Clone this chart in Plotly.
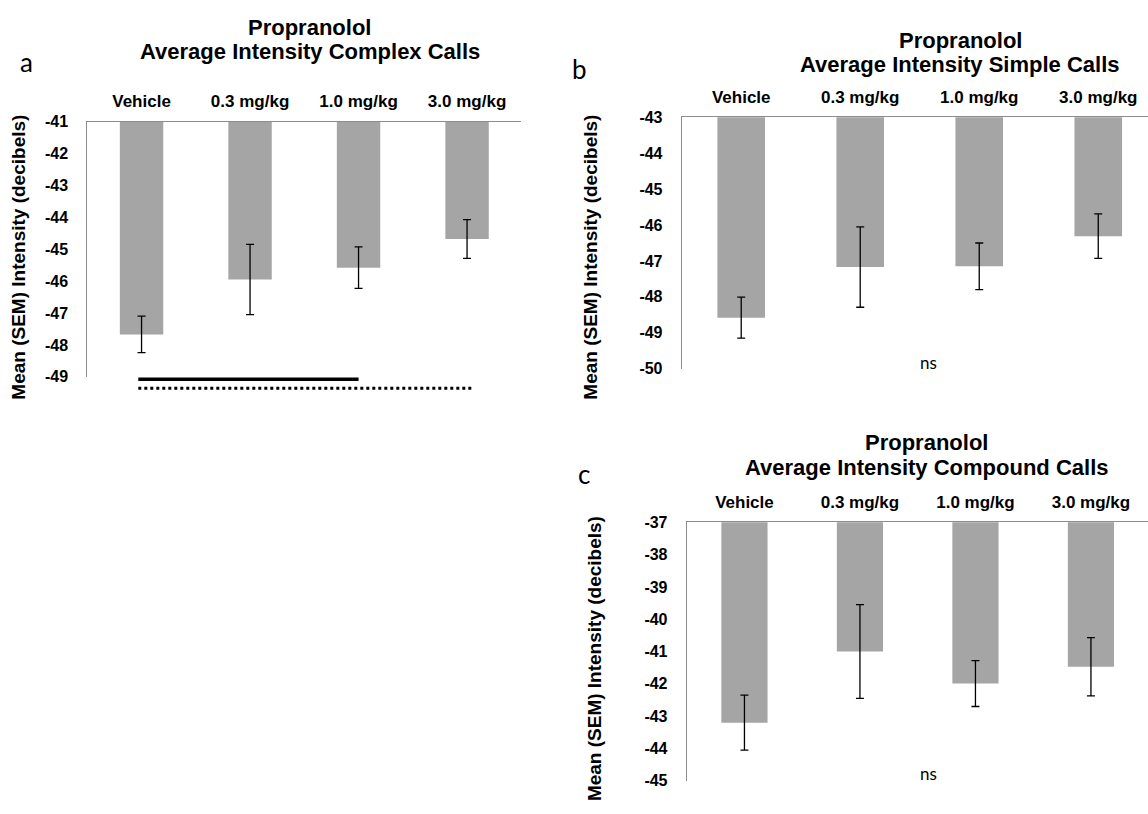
import plotly.graph_objects as go

# ---- data ----
categories = ["Vehicle", "0.3 mg/kg", "1.0 mg/kg", "3.0 mg/kg"]

complex_mean = [-47.67, -45.95, -45.58, -44.68]
complex_sem = [0.57, 1.10, 0.65, 0.61]

simple_mean = [-48.58, -47.17, -47.15, -46.31]
simple_sem = [0.57, 1.12, 0.65, 0.62]

compound_mean = [-43.20, -41.00, -41.99, -41.47]
compound_sem = [0.85, 1.45, 0.71, 0.90]

complex_ticks = list(range(-49, -40))
simple_ticks = list(range(-50, -42))
compound_ticks = list(range(-45, -36))

drug = "Propranolol"
titles = ["Average Intensity Complex Calls",
          "Average Intensity Simple Calls",
          "Average Intensity Compound Calls"]
y_title = "Mean (SEM) Intensity (decibels)"

# ---- page geometry (pixels) ----
W, H = 1148, 814


def fx(px):
    return px / W


def fy(py):
    return 1 - py / H


BAR = "#a5a5a5"
AXIS = "#8c8c8c"
FONT = "Liberation Sans"
LETTER_FONT = "Lato"

fig = go.Figure()

panels = [
    dict(mean=complex_mean, sem=complex_sem, ticks=complex_ticks, xa="x", ya="y"),
    dict(mean=simple_mean, sem=simple_sem, ticks=simple_ticks, xa="x2", ya="y2"),
    dict(mean=compound_mean, sem=compound_sem, ticks=compound_ticks, xa="x3", ya="y3"),
]

for p in panels:
    fig.add_trace(go.Bar(
        x=categories, y=p["mean"],
        width=0.4,
        marker=dict(color=BAR, line=dict(width=0)),
        error_y=dict(type="data", array=p["sem"], visible=True,
                     color="black", thickness=1.3, width=4),
        xaxis=p["xa"], yaxis=p["ya"],
        showlegend=False, hoverinfo="skip",
    ))


def xaxis_cfg(domain, rng, anchor):
    return dict(
        domain=domain, range=rng, anchor=anchor, type="category",
        side="top", showline=True, linecolor=AXIS, linewidth=1,
        showgrid=False, zeroline=False, ticks="", ticklabelstandoff=7,
        tickfont=dict(family=FONT, size=17, color="black", weight="bold"),
        fixedrange=True,
    )


def yaxis_cfg(domain, ticks, anchor):
    return dict(
        domain=domain, range=[ticks[0], ticks[-1]], anchor=anchor,
        tickmode="array", tickvals=ticks, ticktext=[str(t) for t in ticks],
        showline=True, linecolor=AXIS, linewidth=1,
        showgrid=False, zeroline=False, ticks="", ticklabelstandoff=15,
        tickfont=dict(family=FONT, size=16, color="black", weight="bold"),
        fixedrange=True,
    )


fig.update_layout(
    width=W, height=H,
    margin=dict(l=0, r=0, t=0, b=0),
    paper_bgcolor="white", plot_bgcolor="white",
    xaxis=xaxis_cfg([fx(87.3), fx(521.3)], [-0.5, 3.5], "y"),
    yaxis=yaxis_cfg([fy(376.7), fy(116)], complex_ticks, "x"),
    xaxis2=xaxis_cfg([fx(681.7), 1.0], [-0.5, 3.418], "y2"),
    yaxis2=yaxis_cfg([fy(368.3), fy(111.7)], simple_ticks, "x2"),
    xaxis3=xaxis_cfg([fx(686.7), 1.0], [-0.5, 3.494], "y3"),
    yaxis3=yaxis_cfg([fy(789.3), fy(525.3)], compound_ticks, "x3"),
)

# significance bars under panel a (Vehicle vs 1.0, Vehicle vs 3.0)
fig.add_shape(type="line", xref="x", yref="y domain",
              x0=-0.03, x1=2.0, y0=-0.009, y1=-0.009,
              line=dict(color="black", width=3.5))
fig.add_shape(type="line", xref="x", yref="y domain",
              x0=-0.03, x1=3.04, y0=-0.0445, y1=-0.0445,
              line=dict(color="black", width=3, dash="dot"))

ann = []


def text(x, y, s, size, weight="bold", family=FONT, angle=0):
    ann.append(dict(
        x=fx(x), y=fy(y), xref="paper", yref="paper", text=s,
        showarrow=False, xanchor="center", yanchor="middle",
        textangle=angle,
        font=dict(family=family, size=size, color="black", weight=weight),
    ))


# chart titles
text(309.5, 20, drug, 22)
text(309.5, 44, titles[0], 22)
text(960, 33, drug, 22)
text(960, 58, titles[1], 22)
text(926.5, 444, drug, 22)
text(926.5, 469, titles[2], 22)

# y-axis titles
text(19, 255, y_title, 19, angle=-90)
text(591, 255, y_title, 19, angle=-90)
text(594, 665, y_title, 19, angle=-90)

# panel letters
text(26, 55, "a", 26, weight="normal", family=LETTER_FONT)
text(579, 62, "b", 26, weight="normal", family=LETTER_FONT)
text(584, 476, "c", 26, weight="normal", family=LETTER_FONT)

# non-significance markers
text(928.3, 362, "ns", 17, weight="normal", family=LETTER_FONT)
text(928.3, 782, "ns", 17, weight="normal", family=LETTER_FONT)

fig.update_layout(annotations=ann)

fig.write_html("out.html")
